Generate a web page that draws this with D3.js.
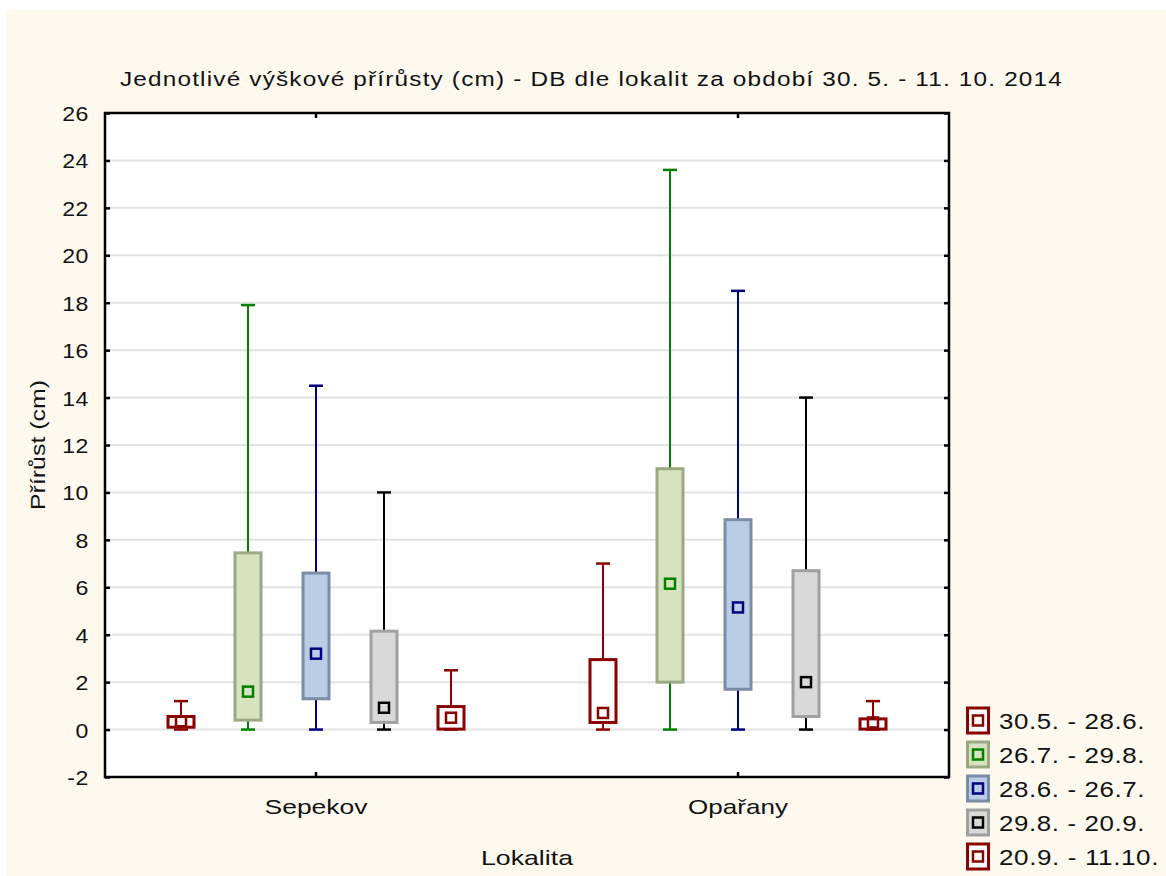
<!DOCTYPE html>
<html>
<head>
<meta charset="utf-8">
<script src="https://cdn.jsdelivr.net/npm/d3@7"></script>
<style>
  html, body { margin: 0; padding: 0; background: #ffffff; }
  svg text { font-family: "Liberation Sans", Arial, sans-serif; fill: #111; }
</style>
</head>
<body>
<svg id="chart" width="1166" height="876"></svg>
<script>
// Localities on the x axis
const categories = ["Sepekov", "Opařany"];
// Measurement periods (legend order)
const periods = ["30.5. - 28.6.", "26.7. - 29.8.", "28.6. - 26.7.", "29.8. - 20.9.", "20.9. - 11.10."];

// Box statistics per period, one value per locality: [Sepekov, Opařany]
const minVals    = [[0, 0], [0, 0], [0, 0], [0, 0], [0, 0]];
const q1Vals     = [[0.1, 0.3], [0.4, 2.0], [1.3, 1.7], [0.3, 0.55], [0.02, 0.02]];
const medianVals = [[0.35, 0.7], [1.6, 6.15], [3.2, 5.15], [0.92, 2.0], [0.5, 0.3]];
const q3Vals     = [[0.55, 2.95], [7.45, 11.0], [6.6, 8.85], [4.15, 6.7], [0.97, 0.45]];
const maxVals    = [[1.2, 7.0], [17.9, 23.6], [14.5, 18.5], [10.0, 14.0], [2.5, 1.2]];

// Y axis ticks
const yTicks = [-2, 0, 2, 4, 6, 8, 10, 12, 14, 16, 18, 20, 22, 24, 26];

const titleText = "Jednotlivé výškové přírůsty (cm) - DB dle lokalit za období 30. 5. - 11. 10. 2014";
const xTitle = "Lokalita";
const yTitle = "Přírůst (cm)";

// Styling per period: box fill, box border, whisker/median colour
const styles = [
  { fill: "#ffffff", border: "#8b0000", line: "#8b0000" },
  { fill: "#d7e3bf", border: "#9ba883", line: "#008000" },
  { fill: "#b9cde5", border: "#7b8ca6", line: "#000080" },
  { fill: "#d9d9d9", border: "#a0a0a0", line: "#000000" },
  { fill: "#ffffff", border: "#8b0000", line: "#8b0000" }
];

const FONT = "Liberation Sans, Arial, sans-serif";
const svg = d3.select("#chart");
const W = 1166, H = 876;
const plot = { left: 105, top: 113, right: 949, bottom: 777 };

// Widen glyphs slightly (the chart's text face is broad) by stretching each label
function widen(sel, factor, fixed) {
  sel.each(function (d, i) {
    const w = fixed != null ? (typeof fixed === "function" ? fixed(d, i) : fixed)
                            : this.getComputedTextLength() * factor;
    d3.select(this).attr("textLength", w).attr("lengthAdjust", "spacingAndGlyphs");
  });
}

// page background
svg.append("rect").attr("x", 0).attr("y", 0).attr("width", W).attr("height", H).attr("fill", "#ffffff");
svg.append("rect").attr("x", 6).attr("y", 10).attr("width", W - 6).attr("height", H - 10).attr("fill", "#fdf9ee");
// plot background
svg.append("rect")
  .attr("x", plot.left).attr("y", plot.top)
  .attr("width", plot.right - plot.left).attr("height", plot.bottom - plot.top)
  .attr("fill", "#ffffff");

const y = d3.scaleLinear().domain([-2, 26]).range([plot.bottom, plot.top]);
const x0 = d3.scaleBand().domain(categories).range([plot.left, plot.right]);
const bw = x0.bandwidth();
const x1 = d3.scalePoint().domain(periods).range([-0.32 * bw, 0.32 * bw]);

// grid
svg.append("g").selectAll("line").data(yTicks.filter(t => t > -2 && t < 26)).join("line")
  .attr("x1", plot.left).attr("x2", plot.right)
  .attr("y1", d => y(d)).attr("y2", d => y(d))
  .attr("stroke", "#e2e2e2").attr("stroke-width", 2);

// boxes
const boxW = 26, capW = 14;
periods.forEach((p, si) => {
  const st = styles[si];
  categories.forEach((c, ci) => {
    const cx = Math.round(x0(c) + bw / 2 + x1(p));
    const g = svg.append("g");
    const mn = minVals[si][ci], q1 = q1Vals[si][ci], md = medianVals[si][ci],
          q3 = q3Vals[si][ci], mx = maxVals[si][ci];
    // whiskers
    g.append("line").attr("x1", cx).attr("x2", cx).attr("y1", y(q3)).attr("y2", y(mx))
      .attr("stroke", st.line).attr("stroke-width", 2);
    g.append("line").attr("x1", cx).attr("x2", cx).attr("y1", y(q1)).attr("y2", y(mn))
      .attr("stroke", st.line).attr("stroke-width", 2);
    g.append("line").attr("x1", cx - capW / 2).attr("x2", cx + capW / 2).attr("y1", y(mx)).attr("y2", y(mx))
      .attr("stroke", st.line).attr("stroke-width", 2.5);
    g.append("line").attr("x1", cx - capW / 2).attr("x2", cx + capW / 2).attr("y1", y(mn)).attr("y2", y(mn))
      .attr("stroke", st.line).attr("stroke-width", 2.5);
    // box
    g.append("rect")
      .attr("x", cx - boxW / 2).attr("y", y(q3))
      .attr("width", boxW).attr("height", Math.max(y(q1) - y(q3), 0))
      .attr("fill", st.fill).attr("stroke", st.border).attr("stroke-width", 3);
    // median marker
    g.append("rect")
      .attr("x", cx - 5).attr("y", y(md) - 5).attr("width", 10).attr("height", 10)
      .attr("fill", "none").attr("stroke", st.line).attr("stroke-width", 2.5);
  });
});

// frame
svg.append("rect")
  .attr("x", plot.left).attr("y", plot.top)
  .attr("width", plot.right - plot.left).attr("height", plot.bottom - plot.top)
  .attr("fill", "none").attr("stroke", "#000").attr("stroke-width", 2.5);

// y axis (ticks pointing inward)
const yAxis = svg.append("g").attr("transform", `translate(${plot.left},0)`)
  .call(d3.axisLeft(y).tickValues(yTicks).tickFormat(d => String(d))
    .tickSizeInner(-5).tickSizeOuter(0).tickPadding(16));
yAxis.select(".domain").remove();
yAxis.selectAll(".tick line").attr("stroke", "#000").attr("stroke-width", 2.5);
yAxis.selectAll(".tick text").attr("font-size", 21).attr("font-family", FONT)
  .attr("fill", "#111").attr("dy", "0.36em").style("letter-spacing", "0.5px");
widen(yAxis.selectAll(".tick text"), 1.1);

const yAxisR = svg.append("g").attr("transform", `translate(${plot.right},0)`)
  .call(d3.axisRight(y).tickValues(yTicks).tickSizeInner(-5).tickSizeOuter(0).tickFormat(""));
yAxisR.select(".domain").remove();
yAxisR.selectAll(".tick line").attr("stroke", "#000").attr("stroke-width", 2.5);

// x axis
const xLabelWidth = { "Sepekov": 103, "Opařany": 100 };
const xAxis = svg.append("g").attr("transform", `translate(0,${plot.bottom})`)
  .call(d3.axisBottom(x0).tickSizeInner(-5).tickSizeOuter(0).tickPadding(22));
xAxis.select(".domain").remove();
xAxis.selectAll(".tick line").attr("stroke", "#000").attr("stroke-width", 2.5);
xAxis.selectAll(".tick text").attr("font-size", 21).attr("font-family", FONT)
  .attr("fill", "#111").attr("dy", "0.72em");
widen(xAxis.selectAll(".tick text"), null, d => xLabelWidth[d]);

const xAxisT = svg.append("g").attr("transform", `translate(0,${plot.top})`)
  .call(d3.axisTop(x0).tickSizeInner(-5).tickSizeOuter(0).tickFormat(""));
xAxisT.select(".domain").remove();
xAxisT.selectAll(".tick line").attr("stroke", "#000").attr("stroke-width", 2.5);

// title
const title = svg.append("text").attr("x", 120).attr("y", 86)
  .attr("font-size", 20.5).style("letter-spacing", "1px")
  .text(titleText);
widen(title, null, 943);

// axis titles
const xt = svg.append("text").attr("x", (plot.left + plot.right) / 2 - 46).attr("y", 865)
  .attr("font-size", 21).text(xTitle);
widen(xt, null, 92);
const yt = svg.append("text").attr("transform", `translate(45,510) rotate(-90)`)
  .attr("font-size", 21).text(yTitle);
widen(yt, null, 130);

// legend
const legend = svg.append("g");
periods.forEach((p, i) => {
  const st = styles[i];
  const cy = 720.5 + i * 34;
  legend.append("rect").attr("x", 967.5).attr("y", cy - 12.5).attr("width", 21).attr("height", 25)
    .attr("fill", st.fill).attr("stroke", st.border).attr("stroke-width", 3);
  legend.append("rect").attr("x", 973).attr("y", cy - 5).attr("width", 10).attr("height", 10)
    .attr("fill", "none").attr("stroke", st.line).attr("stroke-width", 2.5);
  const t = legend.append("text").attr("x", 999).attr("y", cy + 8)
    .attr("font-size", 21.5).style("letter-spacing", "0.5px").text(p);
  widen(t, null, i === 4 ? 160 : 146);
});
</script>
</body>
</html>
